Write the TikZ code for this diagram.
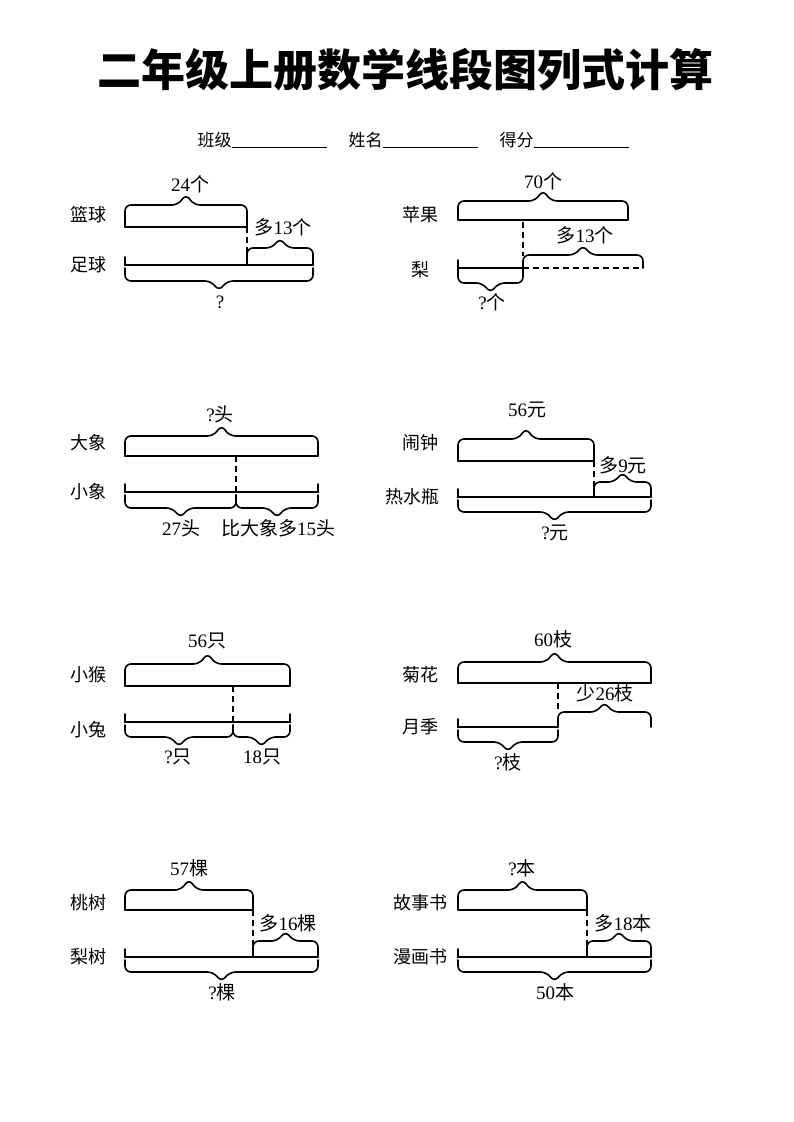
\documentclass[tikz,border=0pt]{standalone}
\usepackage{fontspec}
\setmainfont{Liberation Serif}
\newfontfamily\cjk{Noto Sans CJK SC}
\newcommand\zh[1]{{\cjk #1}}
% brace: x1, x2, base y, level y, tip y
\newcommand\brc[5]{\draw[seg,rounded corners=6pt] (#1,#3) -- (#1,#4) -- ({(#1+#2)/2-8},#4) -- ({(#1+#2)/2},#5) -- ({(#1+#2)/2+8},#4) -- (#2,#4) -- (#2,#3);}
\begin{document}
\begin{tikzpicture}
[x=1pt,y=-1pt,
seg/.style={line width=1.6pt,line cap=round},
gap/.style={line width=1.6pt,dash pattern=on 6pt off 4pt},
lab/.style={font=\fontsize{19}{22}\selectfont,inner sep=1pt},
item/.style={font=\fontsize{18}{22}\selectfont\cjk,inner sep=1pt}
]
\useasboundingbox (0,0) rectangle (793,1122);
\node[font=\fontsize{44}{48}\selectfont\cjk\bfseries] (title) at (405,70) {二年级上册数学线段图列式计算};
\node[font=\fontsize{17}{20}\selectfont\cjk] (info) at (413,140) {班级\underline{\hspace{95pt}}\hspace{22pt}姓名\underline{\hspace{95pt}}\hspace{22pt}得分\underline{\hspace{95pt}}};
% ---- 1 ----
\node[item] (lan) at (88,215) {篮球};
\node[item] (zu) at (88,265) {足球};
\draw[seg] (125,227) -- (247,227);
\brc{125}{247}{227}{205}{194}
\node[lab] (n24) at (190,184) {24\zh{个}};
\draw[gap] (247,227) -- (247,265);
\draw[seg] (125,257) -- (125,265) -- (313,265);
\brc{247}{313}{265}{248}{238}
\node[lab] (d13) at (283,227) {\zh{多}13\zh{个}};
\brc{125}{313}{268}{281}{291}
\node[lab] (q1) at (220,302) {?};
% ---- 2 ----
\node[item] (ping) at (420,215) {苹果};
\node[item] (li) at (420,270) {梨};
\draw[seg] (458,220) -- (628,220);
\brc{458}{628}{220}{201}{190}
\node[lab] (n70) at (543,181) {70\zh{个}};
\draw[gap] (523,222) -- (523,256);
\draw[seg] (458,260) -- (458,268) -- (523,268);
\draw[gap] (523,268) -- (643,268);
\brc{523}{643}{268}{255}{245}
\node[lab] (d13b) at (585,235) {\zh{多}13\zh{个}};
\brc{458}{523}{268}{283}{293}
\node[lab] (q2) at (492,302) {?\zh{个}};
% ---- 3 ----
\node[item] (da) at (88,443) {大象};
\node[item] (xiao) at (88,492) {小象};
\draw[seg] (125,456) -- (318,456);
\brc{125}{318}{456}{436}{425}
\node[lab] (qt) at (220,414) {?\zh{头}};
\draw[gap] (236,456) -- (236,492);
\draw[seg] (125,484) -- (125,492) -- (318,492) -- (318,484);
\brc{125}{236}{495}{508}{518}
\brc{236}{318}{495}{508}{518}
\node[lab] (n27) at (181,528) {27\zh{头}};
\node[lab] (d15) at (278,528) {\zh{比大象多}15\zh{头}};
% ---- 4 ----
\node[item] (nao) at (420,443) {闹钟};
\node[item] (re) at (412,497) {热水瓶};
\draw[seg] (458,461) -- (594,461);
\brc{458}{594}{461}{439}{428}
\node[lab] (n56) at (527,410) {56\zh{元}};
\draw[gap] (594,461) -- (594,497);
\draw[seg] (458,489) -- (458,497) -- (651,497);
\brc{594}{651}{497}{482}{472}
\node[lab] (d9) at (623,465) {\zh{多}9\zh{元}};
\brc{458}{651}{500}{512}{522}
\node[lab] (q4) at (555,533) {?\zh{元}};
% ---- 5 ----
\node[item] (hou) at (88,675) {小猴};
\node[item] (tu) at (88,730) {小兔};
\draw[seg] (125,686) -- (290,686);
\brc{125}{290}{686}{664}{653}
\node[lab] (n56b) at (207,641) {56\zh{只}};
\draw[gap] (233,686) -- (233,722);
\draw[seg] (125,714) -- (125,722) -- (290,722) -- (290,714);
\brc{125}{233}{725}{737}{747}
\brc{233}{290}{725}{737}{747}
\node[lab] (q5) at (178,757) {?\zh{只}};
\node[lab] (n18) at (262,757) {18\zh{只}};
% ---- 6 ----
\node[item] (ju) at (420,675) {菊花};
\node[item] (yue) at (420,727) {月季};
\draw[seg] (458,683) -- (651,683);
\brc{458}{651}{683}{662}{651}
\node[lab] (n60) at (553,639) {60\zh{枝}};
\draw[gap] (558,683) -- (558,712);
\draw[seg] (458,719) -- (458,727) -- (558,727);
\brc{558}{651}{727}{712}{702}
\node[lab] (s26) at (605,693) {\zh{少}26\zh{枝}};
\brc{458}{558}{730}{742}{752}
\node[lab] (q6) at (508,762) {?\zh{枝}};
% ---- 7 ----
\node[item] (tao) at (88,903) {桃树};
\node[item] (lis) at (88,957) {梨树};
\draw[seg] (125,910) -- (253,910);
\brc{125}{253}{910}{890}{879}
\node[lab] (n57) at (189,868) {57\zh{棵}};
\draw[gap] (253,910) -- (253,957);
\draw[seg] (125,949) -- (125,957) -- (318,957);
\brc{253}{318}{957}{941}{931}
\node[lab] (d16) at (288,923) {\zh{多}16\zh{棵}};
\brc{125}{318}{960}{972}{982}
\node[lab] (q7) at (222,992) {?\zh{棵}};
% ---- 8 ----
\node[item] (gu) at (420,903) {故事书};
\node[item] (man) at (420,957) {漫画书};
\draw[seg] (458,910) -- (587,910);
\brc{458}{587}{910}{890}{879}
\node[lab] (qb) at (522,868) {?\zh{本}};
\draw[gap] (587,910) -- (587,957);
\draw[seg] (458,949) -- (458,957) -- (651,957);
\brc{587}{651}{957}{941}{931}
\node[lab] (d18) at (623,923) {\zh{多}18\zh{本}};
\brc{458}{651}{960}{972}{982}
\node[lab] (n50) at (555,992) {50\zh{本}};
\end{tikzpicture}
\end{document}
